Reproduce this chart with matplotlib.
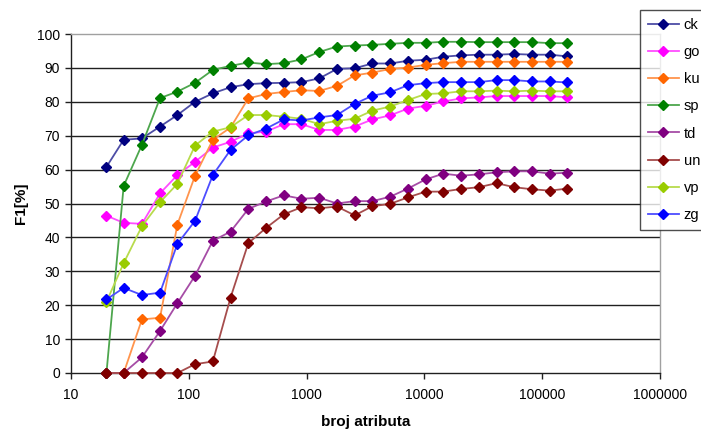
import matplotlib
matplotlib.use("Agg")
import matplotlib.pyplot as plt
from matplotlib.ticker import FixedLocator, NullLocator
import numpy as np

# number of attributes (x)
broj_atributa = [20, 28, 40, 57, 80, 113, 160, 226, 320, 453, 640, 905, 1280, 1810,
                 2560, 3620, 5120, 7241, 10240, 14482, 20480, 28963, 40960, 57926,
                 81920, 115852, 163840]

ck = [60.8, 68.8, 69.2, 72.7, 76.1, 80.0, 82.5, 84.3, 85.2, 85.5, 85.6, 85.8, 86.9, 89.7,
      89.9, 91.3, 91.3, 92.1, 92.4, 93.3, 93.7, 93.9, 93.9, 94.1, 93.9, 93.9, 93.4]
go = [46.4, 44.3, 44.0, 53.0, 58.4, 62.3, 66.5, 68.2, 70.7, 71.2, 73.4, 73.4, 71.7, 71.7,
      72.7, 74.8, 76.0, 78.0, 78.8, 80.1, 81.0, 81.3, 81.7, 81.7, 81.7, 81.7, 81.3]
ku = [0.0, 0.0, 15.8, 16.3, 43.8, 58.2, 68.8, 72.4, 81.0, 82.3, 82.9, 83.4, 83.2, 84.7,
      87.8, 88.6, 89.7, 90.1, 90.9, 91.4, 91.8, 91.8, 91.8, 91.8, 91.8, 91.8, 91.8]
sp = [0.0, 55.2, 67.3, 81.1, 83.0, 85.6, 89.4, 90.6, 91.6, 91.1, 91.4, 92.5, 94.7, 96.3,
      96.6, 96.8, 97.1, 97.4, 97.4, 97.7, 97.7, 97.6, 97.6, 97.6, 97.6, 97.3, 97.3]
td = [0.0, 0.0, 4.6, 12.4, 20.6, 28.7, 39.0, 41.7, 48.4, 50.6, 52.4, 51.4, 51.7, 50.0,
      50.7, 50.7, 52.0, 54.4, 57.1, 58.8, 58.2, 58.6, 59.2, 59.5, 59.5, 58.8, 59.1]
un = [0.0, 0.0, 0.0, 0.0, 0.0, 2.6, 3.4, 22.2, 38.3, 42.8, 46.8, 48.9, 48.6, 49.1,
      46.5, 49.2, 49.9, 51.8, 53.5, 53.5, 54.3, 54.8, 56.0, 54.8, 54.2, 53.8, 54.4]
vp = [21.0, 32.4, 43.3, 50.4, 55.8, 67.1, 71.2, 72.5, 76.1, 76.1, 75.6, 75.0, 73.4, 74.4,
      75.0, 77.4, 78.6, 80.5, 82.3, 82.5, 83.1, 83.1, 83.3, 83.1, 83.3, 83.1, 83.1]
zg = [21.7, 25.1, 23.0, 23.7, 38.1, 44.9, 58.4, 65.8, 70.1, 72.1, 74.8, 74.5, 75.4, 76.1,
      79.4, 81.8, 82.8, 84.9, 85.5, 85.8, 85.8, 85.8, 86.4, 86.4, 86.0, 86.0, 85.7]

series_names = ["ck", "go", "ku", "sp", "td", "un", "vp", "zg"]
series_values = [ck, go, ku, sp, td, un, vp, zg]
colors = ["#000080", "#FF00FF", "#FF6600", "#008000", "#800080", "#800000", "#99CC00", "#0000FF"]

x_ticks = [10, 100, 1000, 10000, 100000, 1000000]
x_tick_labels = ["10", "100", "1000", "10000", "100000", "1000000"]
y_ticks = list(range(0, 101, 10))

plt.rcParams['font.family'] = ['Liberation Sans', 'DejaVu Sans']

fig = plt.figure(figsize=(7.01, 4.33), dpi=100)
ax = fig.add_axes([71/701, 1-373/433, (660-71)/701, (373-34)/433])

def lighten(c, f=0.3):
    c = np.array(matplotlib.colors.to_rgb(c))
    return tuple(c + (1 - c) * f)

handles = []
for name, vals, col in zip(series_names, series_values, colors):
    h, = ax.plot(broj_atributa, vals, color=lighten(col), lw=1.3, marker="D",
                 markersize=4.8, markerfacecolor=col, markeredgecolor=col,
                 label=name, zorder=3, clip_on=False)
    handles.append(h)

ax.set_xscale("log")
ax.set_xlim(10, 1000000)
ax.set_ylim(0, 100)
ax.xaxis.set_major_locator(FixedLocator(x_ticks))
ax.set_xticklabels(x_tick_labels)
ax.xaxis.set_minor_locator(NullLocator())
ax.set_yticks(y_ticks)

for y in y_ticks[1:-1]:
    ax.axhline(y, color="#202020", lw=1.0, zorder=1)

for s in ["top", "right"]:
    ax.spines[s].set_color("#a0a0a0")
    ax.spines[s].set_linewidth(1.0)
for s in ["left", "bottom"]:
    ax.spines[s].set_color("#202020")
    ax.spines[s].set_linewidth(1.0)

ax.tick_params(axis="both", direction="out", length=4, width=1, color="#202020",
               labelsize=10, pad=4)
ax.tick_params(axis="x", pad=7)

ax.set_xlabel("broj atributa", fontsize=11, fontweight="bold", labelpad=9)
ax.set_ylabel("F1[%]", fontsize=11, fontweight="bold", labelpad=6)

leg = fig.legend(handles=handles, loc="upper left", bbox_to_anchor=(640/701, 1-10/433),
                 frameon=True, fancybox=False, edgecolor="#202020", fontsize=10.5,
                 handlelength=2.1, handletextpad=0.35, labelspacing=0.9,
                 borderpad=0.55, borderaxespad=0)
leg.get_frame().set_linewidth(1.0)
leg.set_zorder(5)

fig.savefig("out.png", dpi=100)
